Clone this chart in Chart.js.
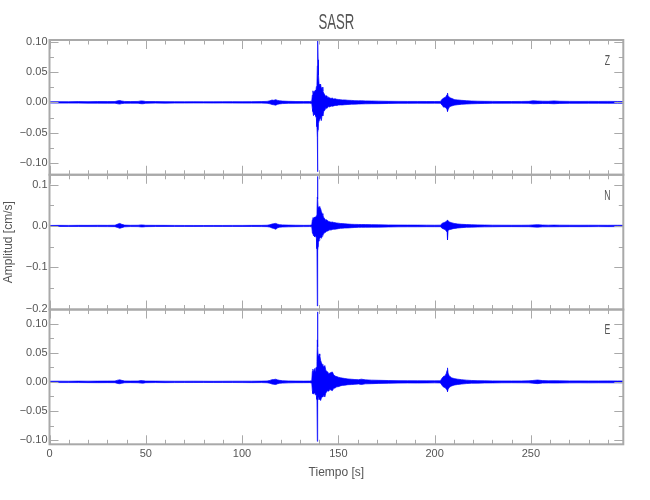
<!DOCTYPE html>
<html>
<head>
<meta charset="utf-8">
<title>SASR</title>
<script src="https://cdn.jsdelivr.net/npm/chart.js@4.4.1/dist/chart.umd.min.js"></script>
<style>
  body { margin: 0; background: #fff; }
  #sismo { display: block; }
</style>
</head>
<body>
<canvas id="sismo" width="650" height="500"></canvas>
<script>
// time samples [s] and the upper / lower envelope of each trace [cm/s]
const time = [
  0, 5, 10, 15, 20, 25, 30, 34, 35.5, 36.5,
  37.5, 39, 42, 46, 47.5, 48.5, 50, 55, 60, 65,
  70, 75, 80, 85, 90, 95, 100, 105, 110, 113,
  114.5, 115.5, 116.5, 117.5, 118.5, 119.5, 121, 124, 128, 132,
  135, 136.2, 136.5, 136.8, 137.1, 137.4, 137.7, 138, 138.3, 138.6,
  138.9, 139.1, 139.2, 139.35, 139.5, 139.7, 140, 140.4, 140.8, 141.2,
  141.6, 142, 142.5, 143, 143.5, 144, 144.5, 145, 145.6, 146.2,
  146.9, 147.6, 148.3, 149.2, 150, 151, 152, 153.4, 155, 156.9,
  158.6, 160.5, 162, 164, 167.3, 171, 176, 181, 186, 191,
  196, 200, 203, 204, 204.7, 205.4, 206, 206.5, 206.7, 207,
  207.5, 208, 208.8, 209.6, 210.5, 212, 214, 216.5, 219.2, 222.5,
  226, 230, 235, 240, 245, 249, 251, 253.5, 256, 259,
  262, 265, 270, 275, 280, 285, 290, 295, 298
];

const zUp = [
  .0010, .0012, .0011, .0013, .0012, .0014, .0013, .0014, .0025, .0030,
  .0022, .0015, .0013, .0015, .0024, .0022, .0014, .0013, .0012, .0011,
  .0010, .0011, .0010, .0010, .0011, .0012, .0011, .0012, .0013, .0016,
  .0026, .0038, .0034, .0045, .0032, .0026, .0021, .0017, .0014, .0013,
  .0014, .0020, .0120, .0190, .0140, .0180, .0150, .0200, .0170, .0260,
  .0320, .0600, .0716, .1025, .0700, .0450, .0300, .0280, .0300, .0220,
  .0250, .0180, .0150, .0120, .0100, .0110, .0080, .0085, .0070, .0065,
  .0070, .0055, .0060, .0050, .0048, .0045, .0040, .0040, .0034, .0032,
  .0028, .0026, .0027, .0024, .0022, .0020, .0017, .0016, .0015, .0015,
  .0014, .0014, .0015, .0055, .0070, .0080, .0100, .0130, .0154, .0110,
  .0090, .0075, .0066, .0055, .0044, .0040, .0033, .0028, .0022, .0019,
  .0017, .0016, .0014, .0014, .0015, .0017, .0026, .0022, .0019, .0018,
  .0024, .0018, .0016, .0015, .0016, .0015, .0016, .0015, .0014
];
const zLow = [
  -.0011, -.0012, -.0012, -.0012, -.0013, -.0013, -.0014, -.0013, -.0024, -.0028,
  -.0020, -.0015, -.0014, -.0014, -.0022, -.0023, -.0015, -.0012, -.0013, -.0011,
  -.0011, -.0010, -.0010, -.0011, -.0010, -.0011, -.0012, -.0012, -.0012, -.0015,
  -.0024, -.0035, -.0040, -.0046, -.0030, -.0025, -.0020, -.0016, -.0015, -.0013,
  -.0013, -.0018, -.0100, -.0150, -.0220, -.0160, -.0200, -.0170, -.0230, -.0260,
  -.0400, -.0580, -.1140, -.0500, -.0450, -.0350, -.0300, -.0280, -.0250, -.0300,
  -.0200, -.0220, -.0140, -.0130, -.0090, -.0100, -.0085, -.0070, -.0075, -.0060,
  -.0065, -.0058, -.0050, -.0052, -.0045, -.0042, -.0043, -.0038, -.0035, -.0030,
  -.0029, -.0027, -.0025, -.0024, -.0022, -.0021, -.0018, -.0016, -.0016, -.0014,
  -.0015, -.0014, -.0015, -.0050, -.0080, -.0075, -.0095, -.0120, -.0149, -.0120,
  -.0085, -.0070, -.0060, -.0052, -.0045, -.0038, -.0032, -.0027, -.0023, -.0020,
  -.0017, -.0015, -.0015, -.0014, -.0014, -.0016, -.0024, -.0021, -.0018, -.0018,
  -.0023, -.0017, -.0016, -.0016, -.0015, -.0015, -.0016, -.0014, -.0015
];

const nUp = [
  .0012, .0014, .0013, .0015, .0014, .0016, .0015, .0018, .0045, .0062,
  .0040, .0020, .0016, .0017, .0026, .0024, .0016, .0015, .0014, .0013,
  .0012, .0012, .0011, .0012, .0012, .0013, .0013, .0014, .0014, .0018,
  .0030, .0045, .0055, .0062, .0042, .0032, .0026, .0020, .0017, .0015,
  .0016, .0022, .0150, .0200, .0170, .0210, .0180, .0220, .0200, .0250,
  .0300, .0700, .1200, .0650, .0450, .0400, .0470, .0450, .0420, .0350,
  .0300, .0250, .0200, .0170, .0140, .0150, .0120, .0110, .0100, .0090,
  .0095, .0085, .0080, .0070, .0068, .0060, .0057, .0052, .0046, .0040,
  .0038, .0036, .0034, .0033, .0032, .0028, .0024, .0022, .0021, .0020,
  .0019, .0018, .0019, .0065, .0080, .0090, .0110, .0130, .0146, .0120,
  .0100, .0090, .0080, .0068, .0058, .0048, .0040, .0034, .0030, .0026,
  .0022, .0019, .0018, .0017, .0017, .0019, .0025, .0032, .0022, .0019,
  .0021, .0019, .0018, .0017, .0018, .0017, .0016, .0017, .0016
];
const nLow = [
  -.0013, -.0013, -.0014, -.0014, -.0015, -.0015, -.0016, -.0017, -.0040, -.0058,
  -.0042, -.0021, -.0015, -.0016, -.0024, -.0025, -.0017, -.0014, -.0013, -.0012,
  -.0012, -.0013, -.0011, -.0011, -.0012, -.0012, -.0013, -.0013, -.0015, -.0017,
  -.0028, -.0048, -.0060, -.0080, -.0045, -.0030, -.0025, -.0021, -.0017, -.0016,
  -.0015, -.0020, -.0160, -.0180, -.0240, -.0200, -.0260, -.0210, -.0250, -.0300,
  -.0550, -.1940, -.0750, -.0600, -.0500, -.0400, -.0350, -.0300, -.0280, -.0300,
  -.0250, -.0220, -.0180, -.0160, -.0150, -.0120, -.0125, -.0110, -.0095, -.0100,
  -.0085, -.0080, -.0078, -.0072, -.0065, -.0058, -.0055, -.0050, -.0048, -.0042,
  -.0037, -.0034, -.0033, -.0032, -.0030, -.0029, -.0025, -.0021, -.0020, -.0020,
  -.0018, -.0019, -.0018, -.0060, -.0075, -.0085, -.0120, -.0150, -.0340, -.0110,
  -.0095, -.0085, -.0078, -.0065, -.0060, -.0050, -.0041, -.0033, -.0029, -.0025,
  -.0022, -.0020, -.0017, -.0017, -.0018, -.0018, -.0024, -.0030, -.0021, -.0020,
  -.0020, -.0019, -.0017, -.0018, -.0017, -.0016, -.0017, -.0016, -.0016
];

const eUp = [
  .0011, .0012, .0011, .0013, .0012, .0013, .0014, .0015, .0030, .0035,
  .0026, .0016, .0014, .0015, .0022, .0021, .0014, .0013, .0012, .0011,
  .0011, .0012, .0011, .0010, .0011, .0012, .0012, .0012, .0013, .0016,
  .0025, .0038, .0040, .0046, .0034, .0026, .0020, .0016, .0014, .0013,
  .0014, .0018, .0180, .0220, .0160, .0200, .0230, .0180, .0240, .0250,
  .0350, .0720, .1200, .0600, .0450, .0400, .0480, .0450, .0370, .0330,
  .0300, .0280, .0260, .0280, .0200, .0180, .0170, .0140, .0150, .0160,
  .0170, .0120, .0100, .0090, .0080, .0072, .0065, .0058, .0050, .0045,
  .0040, .0038, .0046, .0035, .0030, .0027, .0023, .0021, .0020, .0019,
  .0018, .0018, .0019, .0070, .0095, .0100, .0140, .0200, .0240, .0150,
  .0110, .0090, .0070, .0062, .0055, .0046, .0038, .0030, .0024, .0021,
  .0019, .0017, .0016, .0016, .0016, .0018, .0024, .0032, .0022, .0019,
  .0020, .0018, .0017, .0017, .0016, .0016, .0017, .0016, .0016
];
const eLow = [
  -.0010, -.0012, -.0012, -.0012, -.0013, -.0014, -.0013, -.0014, -.0028, -.0032,
  -.0024, -.0015, -.0013, -.0015, -.0021, -.0022, -.0014, -.0012, -.0013, -.0012,
  -.0011, -.0011, -.0010, -.0011, -.0011, -.0011, -.0012, -.0013, -.0012, -.0015,
  -.0024, -.0036, -.0042, -.0045, -.0032, -.0025, -.0021, -.0017, -.0014, -.0014,
  -.0013, -.0020, -.0150, -.0200, -.0210, -.0180, -.0190, -.0220, -.0200, -.0240,
  -.0300, -.1020, -.0350, -.0320, -.0300, -.0280, -.0250, -.0300, -.0320, -.0280,
  -.0250, -.0260, -.0220, -.0260, -.0190, -.0170, -.0150, -.0160, -.0130, -.0140,
  -.0150, -.0110, -.0105, -.0085, -.0082, -.0070, -.0060, -.0057, -.0048, -.0046,
  -.0041, -.0036, -.0045, -.0034, -.0031, -.0026, -.0024, -.0021, -.0019, -.0020,
  -.0018, -.0017, -.0018, -.0065, -.0090, -.0095, -.0120, -.0140, -.0167, -.0130,
  -.0100, -.0085, -.0072, -.0060, -.0052, -.0045, -.0037, -.0029, -.0023, -.0022,
  -.0019, -.0018, -.0016, -.0015, -.0016, -.0017, -.0023, -.0030, -.0021, -.0019,
  -.0020, -.0019, -.0017, -.0016, -.0017, -.0016, -.0016, -.0016, -.0017
];

// axis ranges and labelled ticks
const zRange = [-0.119, 0.1025];
const nRange = [-0.2025, 0.124];
const eRange = [-0.107, 0.124];
const timeMax = 298;
const timeTicks = [0, 50, 100, 150, 200, 250];

const BLUE = "#0000ff";
const GREY = "#a9a9a9";
const TEXT = "#555555";
const FONT = "'Liberation Sans', Arial, sans-serif";

const panels = [
  { axis: "yZ", label: "Z", minor: 0.025 },
  { axis: "yN", label: "N", minor: 0.05 },
  { axis: "yE", label: "E", minor: 0.025 },
];

function points(values) {
  return time.map((t, i) => ({ x: t, y: values[i] }));
}

function envelope(up, low, axis) {
  const base = { borderColor: BLUE, backgroundColor: BLUE, borderWidth: 0.7, pointRadius: 0, yAxisID: axis };
  return [
    { ...base, data: points(up), fill: "+1" },
    { ...base, data: points(low), fill: false },
  ];
}

function tickLabel(decimals) {
  return (v) => {
    if (Math.abs(v) < 1e-9) v = 0;
    return v.toFixed(decimals).replace("-", "\u2212");
  };
}

function yAxis(range, step, decimals, extra) {
  return {
    type: "linear",
    position: "left",
    stack: "traces",
    stackWeight: 1,
    min: range[0],
    max: range[1],
    grid: { display: false, drawTicks: false },
    border: { display: false },
    ticks: {
      stepSize: step,
      includeBounds: false,
      padding: 2,
      color: TEXT,
      font: { family: FONT, size: 11 },
      callback: tickLabel(decimals),
    },
    afterFit: (scale) => { scale.width = 49.5; },
    ...extra,
  };
}

// narrow text, like the plotting font of the original
function narrowText(ctx, text, x, y, size, squeeze) {
  ctx.save();
  ctx.translate(x, y);
  ctx.scale(squeeze, 1);
  ctx.font = size + "px " + FONT;
  ctx.fillStyle = TEXT;
  ctx.textAlign = "center";
  ctx.textBaseline = "middle";
  ctx.fillText(text, 0, 0);
  ctx.restore();
}

const framePlugin = {
  id: "frame",
  afterDraw(chart) {
    const { ctx, scales } = chart;
    const xs = scales.x;

    ctx.save();
    ctx.strokeStyle = GREY;
    panels.forEach((p) => {
      const ys = scales[p.axis];
      const top = ys.top;
      const bottom = ys.bottom;

      // inward ticks on all four sides
      ctx.lineWidth = 1;
      ctx.beginPath();
      for (let v = 0; v <= timeMax; v += 10) {
        const px = Math.round(xs.getPixelForValue(v)) + 0.5;
        const len = v % 50 === 0 ? 9 : 4.5;
        ctx.moveTo(px, top); ctx.lineTo(px, top + len);
        ctx.moveTo(px, bottom); ctx.lineTo(px, bottom - len);
      }
      const k0 = Math.ceil(ys.min / p.minor - 1e-6);
      const k1 = Math.floor(ys.max / p.minor + 1e-6);
      for (let k = k0; k <= k1; k++) {
        const py = Math.round(ys.getPixelForValue(k * p.minor)) + 0.5;
        const len = k % 2 === 0 ? 9 : 4.5;
        ctx.moveTo(xs.left, py); ctx.lineTo(xs.left + len, py);
        ctx.moveTo(xs.right, py); ctx.lineTo(xs.right - len, py);
      }
      ctx.stroke();

      ctx.lineWidth = 2;
      ctx.strokeRect(xs.left, top, xs.right - xs.left, bottom - top);

      narrowText(ctx, p.label, xs.right - 16, top + 21, 14, 0.62);
    });
    ctx.restore();

    narrowText(ctx, "SASR", (xs.left + xs.right) / 2, 23, 22, 0.6);
  },
};

new Chart(document.getElementById("sismo"), {
  type: "line",
  plugins: [framePlugin],
  data: {
    datasets: [
      ...envelope(zUp, zLow, "yZ"),
      ...envelope(nUp, nLow, "yN"),
      ...envelope(eUp, eLow, "yE"),
    ],
  },
  options: {
    responsive: false,
    animation: false,
    parsing: false,
    layout: { padding: { top: 40, right: 26.7, left: 0, bottom: 0 } },
    plugins: {
      legend: { display: false },
      tooltip: { enabled: false },
      title: { display: false },
    },
    scales: {
      x: {
        type: "linear",
        position: "bottom",
        min: 0,
        max: timeMax,
        grid: { display: false, drawTicks: false },
        border: { display: false },
        afterBuildTicks: (scale) => {
          scale.ticks = timeTicks.map((v) => ({ value: v }));
        },
        ticks: {
          padding: 3,
          maxRotation: 0,
          autoSkip: false,
          color: TEXT,
          font: { family: FONT, size: 11 },
        },
        title: {
          display: true,
          text: "Tiempo [s]",
          color: TEXT,
          font: { family: FONT, size: 12 },
          padding: { top: 0, bottom: 20 },
        },
        afterFit: (scale) => { scale.height = 55.7; },
      },
      // first axis in the stack ends up at the bottom
      yE: yAxis(eRange, 0.05, 2),
      yN: yAxis(nRange, 0.1, 1, {
        title: {
          display: true,
          text: "Amplitud [cm/s]",
          color: TEXT,
          font: { family: FONT, size: 12 },
          padding: { top: 1, bottom: 0 },
        },
      }),
      yZ: yAxis(zRange, 0.05, 2),
    },
  },
});
</script>
</body>
</html>
